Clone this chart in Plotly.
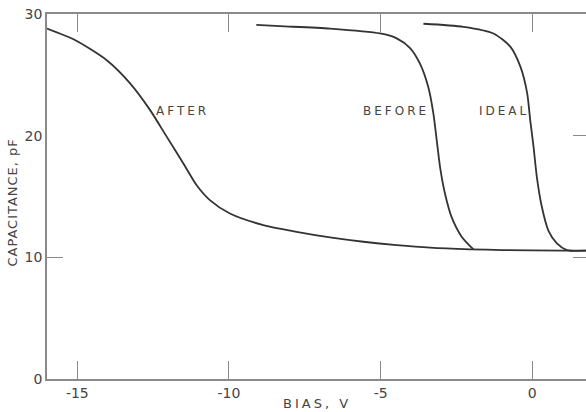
import plotly.graph_objects as go

# C-V curves: bias (V) vs capacitance (pF)
after_bias = [-16.0, -15.08, -14.03, -13.26, -12.6, -12.05, -11.5, -11.06, -10.63, -9.97,
              -8.87, -7.77, -6.67, -5.57, -4.47, -3.37, -2.05, -1.0, 1.0, 1.8]
after_cap = [28.8, 27.86, 26.2, 24.3, 22.1, 19.9, 17.7, 15.9, 14.7, 13.6,
             12.65, 12.1, 11.64, 11.28, 11.0, 10.79, 10.66, 10.6, 10.55, 10.55]

before_bias = [-9.1, -8.32, -6.67, -5.02, -4.47, -4.03, -3.7, -3.43, -3.26, -3.15,
               -3.04, -2.88, -2.66, -2.33, -1.94]
before_cap = [29.1, 29.0, 28.8, 28.4, 28.0, 27.2, 25.9, 24.0, 21.8, 19.6,
              17.4, 15.25, 13.3, 11.7, 10.65]

ideal_bias = [-3.59, -2.27, -1.28, -0.72, -0.39, -0.17, -0.07, 0.04, 0.15, 0.31,
              0.53, 0.81, 1.14, 1.8]
ideal_cap = [29.2, 28.95, 28.4, 27.3, 25.65, 23.5, 21.3, 19.1, 16.6, 14.2,
             12.2, 11.15, 10.6, 10.55]

curve_names = ["AFTER", "BEFORE", "IDEAL"]
label_bias = [-11.53, -4.5, -0.95]
label_cap = [22.0, 22.0, 22.0]

x_ticks = [-15, -10, -5, 0]
y_ticks = [0, 10, 20, 30]

INK = "#333333"
AXIS = "#8a8a8a"
TEXT = "#444444"
FONT = "DejaVu Sans"

fig = go.Figure()
# Each curve sits on its own (identically scaled) y axis so the left/right tick
# axes are part of the plot.
for bx, cy, ax in [(after_bias, after_cap, "y"), (before_bias, before_cap, "y2"), (ideal_bias, ideal_cap, "y3")]:
    fig.add_trace(go.Scatter(x=bx, y=cy, mode="lines", yaxis=ax,
                             line=dict(color=INK, width=1.8, shape="spline", smoothing=0.7),
                             showlegend=False, hoverinfo="skip"))

for name, bx, cy in zip(curve_names, label_bias, label_cap):
    fig.add_annotation(x=bx, y=cy, text=f'<span style="letter-spacing:3px">{name}</span>', showarrow=False,
                       xanchor="center", yanchor="middle", font=dict(family=FONT, size=12, color=TEXT))

fig.add_annotation(xref="paper", x=0, xshift=-34, y=14.5, yref="y",
                   text='<span style="letter-spacing:1px">CAPACITANCE, pF</span>',
                   textangle=-90, showarrow=False, xanchor="center", yanchor="middle",
                   font=dict(family=FONT, size=13, color=TEXT))

fig.add_annotation(xref="paper", yref="paper", x=0.5, y=0, yshift=-24,
                   text='<span style="letter-spacing:3px">BIAS, V</span>',
                   showarrow=False, xanchor="center", yanchor="middle",
                   font=dict(family=FONT, size=13, color=TEXT))

fig.update_layout(
    width=586, height=412,
    margin=dict(l=47, r=0, t=14, b=33),
    paper_bgcolor="white", plot_bgcolor="white",
    xaxis=dict(range=[-16, 1.77], tickvals=x_ticks, ticktext=[str(v) for v in x_ticks],
               showline=True, linecolor=AXIS, linewidth=1.5, mirror="ticks",
               ticks="inside", ticklen=18, tickwidth=1.2, tickcolor=AXIS,
               showgrid=False, zeroline=False,
               tickfont=dict(family=FONT, size=14, color=TEXT)),
    yaxis=dict(range=[0, 30], tickvals=y_ticks, ticktext=[str(v) for v in y_ticks],
               showline=True, linecolor=AXIS, linewidth=1.5, ticks="",
               showgrid=False, zeroline=False,
               tickfont=dict(family=FONT, size=14, color=TEXT)),
    yaxis2=dict(range=[0, 30], overlaying="y", side="left", anchor="x", tickvals=[10],
                ticks="inside", ticklen=16, tickwidth=1.2, tickcolor=AXIS,
                showticklabels=False, showgrid=False, zeroline=False, showline=False),
    yaxis3=dict(range=[0, 30], overlaying="y", side="right", anchor="x", tickvals=[10, 20],
                ticks="inside", ticklen=13, tickwidth=1.2, tickcolor=AXIS,
                showticklabels=False, showgrid=False, zeroline=False, showline=False),
)

fig.write_html("out.html")
